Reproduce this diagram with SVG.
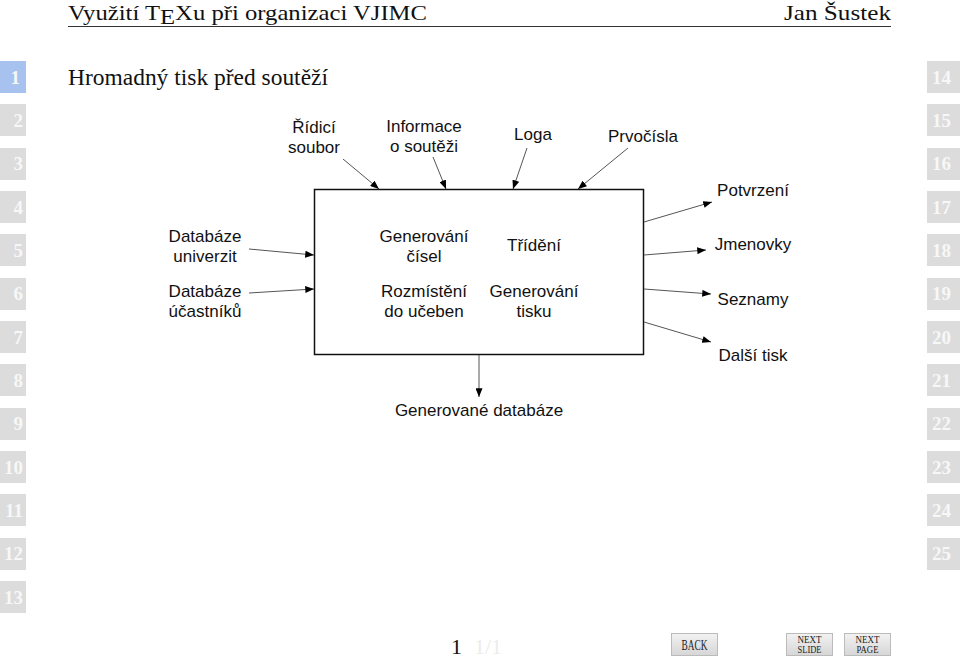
<svg xmlns="http://www.w3.org/2000/svg" width="960" height="661" viewBox="0 0 960 661">
<defs>
<style>
.serif{font-family:"Liberation Serif","DejaVu Serif",serif;}
.sans{font-family:"Liberation Sans","DejaVu Sans",sans-serif;font-size:17px;fill:#111;text-anchor:middle;}
.tile{fill:#dcdcdc;}
.tnum{font-family:"Liberation Serif",serif;font-size:19px;font-weight:bold;fill:#f7f7f7;}
.conn{stroke:#555;stroke-width:1;fill:none;marker-end:url(#ah);}
.btn{fill:url(#bg);stroke:#bbb;stroke-width:1;}
.btxt{font-family:"Liberation Serif",serif;fill:#222;text-anchor:middle;}
</style>
<marker id="ah" viewBox="0 0 10 8" refX="10" refY="4" markerWidth="9" markerHeight="7" markerUnits="userSpaceOnUse" orient="auto">
<path d="M0,0 L10,4 L0,8 z" fill="#000"/>
</marker>
<linearGradient id="bg" x1="0" y1="0" x2="0" y2="1">
<stop offset="0" stop-color="#f2f2f2"/>
<stop offset="1" stop-color="#d6d6d6"/>
</linearGradient>
</defs>
<rect width="960" height="661" fill="#fff"/>

<g id="header">
<text class="serif" x="68" y="20" font-size="22" fill="#111" textLength="359" lengthAdjust="spacingAndGlyphs">Využití T<tspan dy="4">E</tspan><tspan dy="-4">Xu při organizaci VJIMC</tspan></text>
<text class="serif" x="891" y="20" font-size="22" fill="#111" text-anchor="end" textLength="107" lengthAdjust="spacingAndGlyphs">Jan Šustek</text>
<line x1="68" y1="26.5" x2="891" y2="26.5" stroke="#333" stroke-width="1"/>
<text class="serif" x="68" y="85" font-size="23" fill="#111" textLength="260" lengthAdjust="spacingAndGlyphs">Hromadný tisk před soutěží</text>
</g>

<g id="left-tiles">
<rect x="0" y="61" width="26" height="32" fill="#a7c2ef"/>
<text class="tnum" x="20" y="84" text-anchor="end">1</text>
<rect class="tile" x="0" y="104" width="26" height="32"/><text class="tnum" x="23" y="127" text-anchor="end">2</text>
<rect class="tile" x="0" y="148" width="26" height="32"/><text class="tnum" x="23" y="170" text-anchor="end">3</text>
<rect class="tile" x="0" y="191" width="26" height="32"/><text class="tnum" x="23" y="214" text-anchor="end">4</text>
<rect class="tile" x="0" y="234" width="26" height="32"/><text class="tnum" x="23" y="257" text-anchor="end">5</text>
<rect class="tile" x="0" y="278" width="26" height="32"/><text class="tnum" x="23" y="300" text-anchor="end">6</text>
<rect class="tile" x="0" y="321" width="26" height="32"/><text class="tnum" x="23" y="344" text-anchor="end">7</text>
<rect class="tile" x="0" y="364" width="26" height="32"/><text class="tnum" x="23" y="387" text-anchor="end">8</text>
<rect class="tile" x="0" y="408" width="26" height="32"/><text class="tnum" x="23" y="430" text-anchor="end">9</text>
<rect class="tile" x="0" y="451" width="26" height="32"/><text class="tnum" x="23" y="474" text-anchor="end">10</text>
<rect class="tile" x="0" y="494" width="26" height="32"/><text class="tnum" x="23" y="517" text-anchor="end">11</text>
<rect class="tile" x="0" y="538" width="26" height="32"/><text class="tnum" x="23" y="560" text-anchor="end">12</text>
<rect class="tile" x="0" y="581" width="26" height="32"/><text class="tnum" x="23" y="604" text-anchor="end">13</text>
</g>

<g id="right-tiles">
<rect class="tile" x="927" y="61" width="33" height="32"/><text class="tnum" x="932" y="84">14</text>
<rect class="tile" x="927" y="104" width="33" height="32"/><text class="tnum" x="932" y="127">15</text>
<rect class="tile" x="927" y="148" width="33" height="32"/><text class="tnum" x="932" y="170">16</text>
<rect class="tile" x="927" y="191" width="33" height="32"/><text class="tnum" x="932" y="214">17</text>
<rect class="tile" x="927" y="234" width="33" height="32"/><text class="tnum" x="932" y="257">18</text>
<rect class="tile" x="927" y="278" width="33" height="32"/><text class="tnum" x="932" y="300">19</text>
<rect class="tile" x="927" y="321" width="33" height="32"/><text class="tnum" x="932" y="344">20</text>
<rect class="tile" x="927" y="364" width="33" height="32"/><text class="tnum" x="932" y="387">21</text>
<rect class="tile" x="927" y="408" width="33" height="32"/><text class="tnum" x="932" y="430">22</text>
<rect class="tile" x="927" y="451" width="33" height="32"/><text class="tnum" x="932" y="474">23</text>
<rect class="tile" x="927" y="494" width="33" height="32"/><text class="tnum" x="932" y="517">24</text>
<rect class="tile" x="927" y="538" width="33" height="32"/><text class="tnum" x="932" y="560">25</text>
</g>

<g id="process">
<rect x="314.5" y="189.5" width="329" height="165" fill="none" stroke="#111" stroke-width="1.5"/>
<text class="sans" x="424" y="242">Generování</text>
<text class="sans" x="424" y="262">čísel</text>
<text class="sans" x="534" y="251">Třídění</text>
<text class="sans" x="424" y="297">Rozmístění</text>
<text class="sans" x="424" y="317">do učeben</text>
<text class="sans" x="534" y="297">Generování</text>
<text class="sans" x="534" y="317">tisku</text>
</g>

<g id="inputs">
<g id="ridici"><text class="sans" x="314" y="133">Řídicí</text><text class="sans" x="314" y="153">soubor</text></g>
<g id="informace"><text class="sans" x="424" y="132">Informace</text><text class="sans" x="424" y="152">o soutěži</text></g>
<g id="loga"><text class="sans" x="533" y="140">Loga</text></g>
<g id="prvocisla"><text class="sans" x="643" y="142">Prvočísla</text></g>
<g id="db-univerzit"><text class="sans" x="205" y="242">Databáze</text><text class="sans" x="205" y="262">univerzit</text></g>
<g id="db-ucastniku"><text class="sans" x="205" y="297">Databáze</text><text class="sans" x="205" y="317">účastníků</text></g>
</g>

<g id="outputs">
<g id="potvrzeni"><text class="sans" x="753" y="196">Potvrzení</text></g>
<g id="jmenovky"><text class="sans" x="753" y="250">Jmenovky</text></g>
<g id="seznamy"><text class="sans" x="753" y="305">Seznamy</text></g>
<g id="dalsi"><text class="sans" x="753" y="361">Další tisk</text></g>
<g id="gen-db"><text class="sans" x="479" y="416">Generované databáze</text></g>
</g>

<g id="connectors">
<line class="conn" x1="343" y1="159" x2="379" y2="189"/>
<line class="conn" x1="433" y1="157" x2="446" y2="189"/>
<line class="conn" x1="527" y1="148" x2="513" y2="189"/>
<line class="conn" x1="628" y1="148" x2="578" y2="189"/>
<line class="conn" x1="644" y1="222" x2="712" y2="202"/>
<line class="conn" x1="644" y1="255" x2="706" y2="250"/>
<line class="conn" x1="644" y1="289" x2="711" y2="294"/>
<line class="conn" x1="644" y1="322" x2="711" y2="342"/>
<line class="conn" x1="249" y1="249" x2="314" y2="255"/>
<line class="conn" x1="249" y1="293" x2="314" y2="289"/>
<line class="conn" x1="479" y1="355" x2="479" y2="397"/>
</g>

<g id="footer">
<text class="serif" x="451" y="654" font-size="22" fill="#111">1</text>
<text class="serif" x="474" y="654" font-size="22" fill="#ececec">1/1</text>
<g id="btn-back"><rect class="btn" x="671.5" y="633.5" width="46" height="22"/><text class="btxt" x="694.5" y="650" font-size="14" textLength="26" lengthAdjust="spacingAndGlyphs">BACK</text></g>
<g id="btn-next-slide"><rect class="btn" x="786.5" y="633.5" width="46" height="22"/><text class="btxt" x="809.5" y="643" font-size="9.5" textLength="24" lengthAdjust="spacingAndGlyphs">NEXT</text><text class="btxt" x="809.5" y="653" font-size="9.5" textLength="24" lengthAdjust="spacingAndGlyphs">SLIDE</text></g>
<g id="btn-next-page"><rect class="btn" x="844.5" y="633.5" width="46" height="22"/><text class="btxt" x="867.5" y="643" font-size="9.5" textLength="24" lengthAdjust="spacingAndGlyphs">NEXT</text><text class="btxt" x="867.5" y="653" font-size="9.5" textLength="22" lengthAdjust="spacingAndGlyphs">PAGE</text></g>
</g>
</svg>
